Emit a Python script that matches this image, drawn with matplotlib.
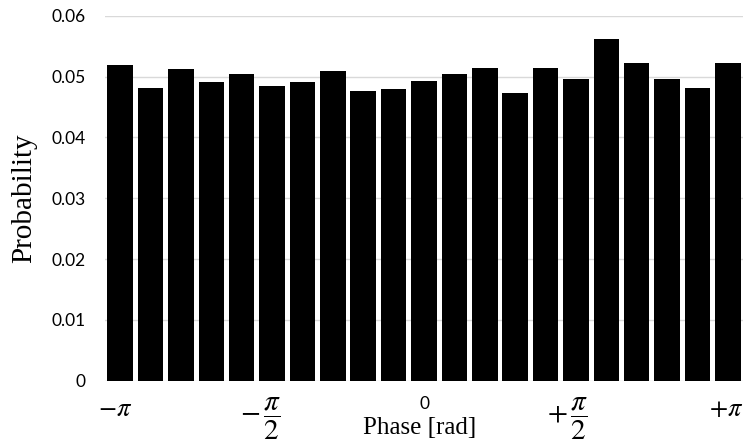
import numpy as np
import matplotlib
matplotlib.use("Agg")
import matplotlib.pyplot as plt
from matplotlib.transforms import ScaledTranslation

# phase histogram: 21 bins from -pi to +pi
probability = [0.0520, 0.0482, 0.0512, 0.0491, 0.0504, 0.0485, 0.0491,
               0.0509, 0.0477, 0.0479, 0.0493, 0.0504, 0.0515, 0.0474,
               0.0515, 0.0496, 0.0562, 0.0523, 0.0496, 0.0482, 0.0523]
tick_pos = [0, 5, 10, 15, 20]
tick_labels = [r'$-\pi$', r'$-\,\dfrac{\pi}{2}$', '0', r'$+\,\dfrac{\pi}{2}$', r'$+\pi$']
# horizontal nudge of each tick label in pixels (sign hangs left of the fraction)
tick_shift = [-5, -12, 0, -8, -2]
y_ticks = [0, 0.01, 0.02, 0.03, 0.04, 0.05, 0.06]

plt.rcParams['mathtext.fontset'] = 'stix'

fig = plt.figure(figsize=(7.43, 4.45), dpi=100)
ax = fig.add_axes([105 / 743, 1 - 380.7 / 445, 638 / 743, 364.8 / 445])

x = np.arange(len(probability))
ax.bar(x, probability, width=0.84, color='black', zorder=3)

ax.set_xlim(-0.5, len(probability) - 0.5)
ax.set_ylim(0, 0.06)
ax.set_yticks(y_ticks)
ax.set_yticklabels(['0' if v == 0 else f'{v:.2f}' for v in y_ticks],
                   fontfamily='Lato', fontsize=12.5)
ax.yaxis.grid(True, color='#d9d9d9', linewidth=1, zorder=0)
ax.set_axisbelow(True)
for s in ax.spines.values():
    s.set_visible(False)
ax.tick_params(axis='y', length=0, pad=14)
ax.tick_params(axis='x', length=0, pad=11)

ax.set_xticks(tick_pos)
ax.set_xticklabels(tick_labels, fontsize=19, va='top')
for lbl, dx in zip(ax.get_xticklabels(), tick_shift):
    txt = lbl.get_text()
    if txt == '0':
        lbl.set_fontfamily('Lato')
        lbl.set_fontsize(12.5)
    elif 'dfrac' in txt:
        lbl.set_fontsize(21)
    lbl.set_transform(lbl.get_transform() +
                      ScaledTranslation(dx / 100, 0, fig.dpi_scale_trans))

ax.set_xlabel('Phase [rad]', fontfamily='Liberation Serif', fontsize=18)
ax.xaxis.set_label_coords(0.493, -0.10)
ax.set_ylabel('Probability', fontfamily='Liberation Serif', fontsize=21)
ax.yaxis.set_label_coords(-0.107, 0.5)

fig.savefig('out.png', dpi=100)
